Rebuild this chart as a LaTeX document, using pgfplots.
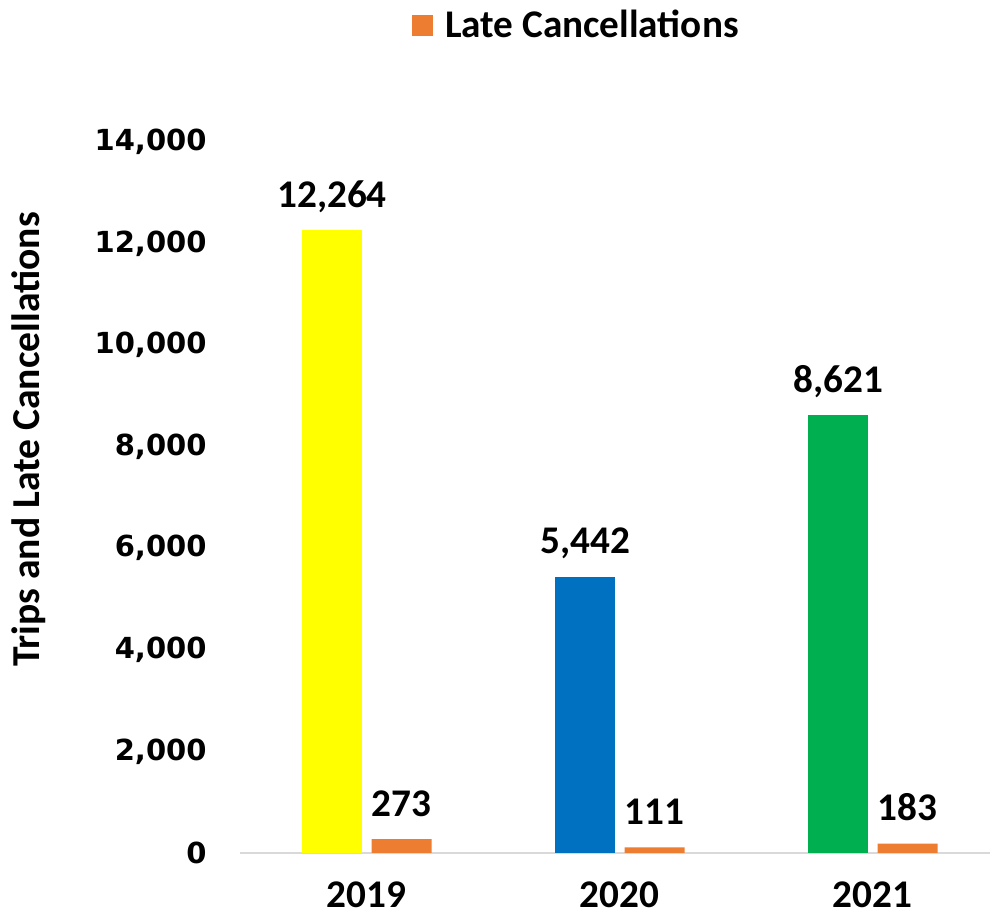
\documentclass[border=0pt]{standalone}
\usepackage{fontspec}
\setmainfont{Carlito}
\newfontfamily\tickfont{DejaVu Sans}
\usepackage{pgfplots}
\pgfplotsset{compat=1.18}
\definecolor{tripyellow}{HTML}{FFFF00}
\definecolor{tripblue}{HTML}{0070C0}
\definecolor{tripgreen}{HTML}{00B050}
\definecolor{lateorange}{HTML}{ED7D31}
\definecolor{axisgray}{HTML}{D9D9D9}
\begin{document}
\begin{tikzpicture}
\useasboundingbox (-120pt,-33.5pt) rectangle (375pt,426.5pt);
\begin{axis}[
    scale only axis,
    width=375pt, height=355.5pt,
    xmin=-0.5, xmax=2.464,
    ymin=0, ymax=14000,
    ybar, bar width=30pt,
    axis x line*=bottom, axis y line*=left,
    x axis line style={draw=axisgray, line width=1pt},
    y axis line style={draw=none},
    tick style={draw=none},
    xtick={0,1,2}, xticklabels={2019,2020,2021},
    ytick={0,2000,...,14000},
    scaled y ticks=false,
    /pgf/number format/1000 sep={,},
    /pgf/number format/assume math mode=true,
    yticklabel style={font=\tickfont\bfseries\fontsize{14.5}{17}\selectfont, xshift=-13.2pt},
    xticklabel style={font=\bfseries\fontsize{19.6}{22}\selectfont, inner sep=0pt, yshift=-10pt},
    ylabel={Trips and Late Cancellations},
    every axis y label/.style={at={(axis description cs:-0.2813,0.5815)}, rotate=90, anchor=center,
        font=\bfseries\fontsize{19.8}{22}\selectfont},
    nodes near coords={\pgfmathprintnumber[1000 sep={,}]{\pgfplotspointmeta}},
    every node near coord/.append style={font=\bfseries\fontsize{19.6}{22}\selectfont, anchor=base, yshift=11.5pt},
    legend style={at={(0.4495,1.1646)}, anchor=center, draw=none, fill=none,
        font=\bfseries\fontsize{19.6}{22}\selectfont},
    legend image code/.code={\fill[lateorange] (0pt,-5.6pt) rectangle (10.5pt,4.9pt); \path (14.75pt,0pt);},
]
\addplot[fill=tripyellow, draw=none, bar shift=-17.25pt, forget plot] coordinates {(0,12264)};
\addplot[fill=tripblue, draw=none, bar shift=-17.25pt, forget plot] coordinates {(1,5442)};
\addplot[fill=tripgreen, draw=none, bar shift=-17.25pt, forget plot] coordinates {(2,8621)};
\addplot[fill=lateorange, draw=none, bar shift=17.5pt] coordinates {(0,273) (1,111) (2,183)};
\legend{Late Cancellations}
\end{axis}
\end{tikzpicture}
\end{document}
